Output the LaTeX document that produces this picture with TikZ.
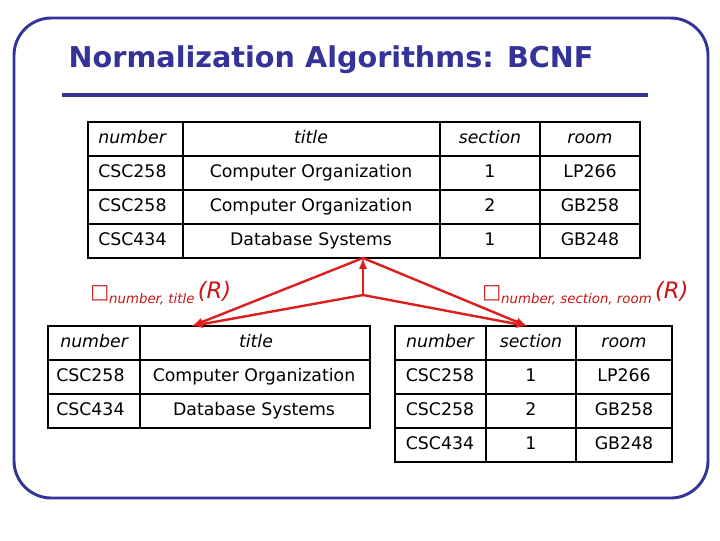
\documentclass[tikz,border=0pt]{standalone}
\usepackage{fontspec}
\setmainfont{DejaVu Sans}
\begin{document}
\begin{tikzpicture}[x=0.75pt,y=-0.75pt,
  tb/.style={draw=black,line width=1.6pt},
  cell/.style={font=\fontsize{13}{15}\selectfont,inner sep=0pt,text height=1.7ex,text depth=0.45ex},
  hd/.style={cell,font=\fontsize{13}{15}\selectfont\itshape},
  arr/.style={draw={rgb,255:red,220;green,30;blue,30},line width=1.8pt,-latex},
  lbl/.style={text={rgb,255:red,200;green,20;blue,20},inner sep=0pt,anchor=west}]
\useasboundingbox (0,0) rectangle (720,540);
\definecolor{navy}{RGB}{51,51,153}
\draw[navy,line width=2.2pt,rounded corners=28] (14,18) rectangle (708,498);
\node[anchor=west,text=navy,font=\fontsize{21.5}{24}\selectfont\bfseries] (ttl) at (64,60) {Normalization Algorithms: BCNF};
\draw[navy,line width=2.6pt] (62,95) -- (648,95);
% top table
\draw[tb] (88,122) rectangle (640,258);
\foreach \y in {156,190,224} \draw[tb] (88,\y) -- (640,\y);
\foreach \x in {183,440,540} \draw[tb] (\x,122) -- (\x,258);
\node[hd,anchor=west] (t00) at (98,139) {number};
\node[hd] (t01) at (311,139) {title};
\node[hd] (t02) at (490,139) {section};
\node[hd] (t03) at (590,139) {room};
\node[cell,anchor=west] (t10) at (98,173) {CSC258};
\node[cell] (t11) at (311,173) {Computer Organization};
\node[cell] (t12) at (490,173) {1};
\node[cell] (t13) at (590,173) {LP266};
\node[cell,anchor=west] (t20) at (98,207) {CSC258};
\node[cell] (t21) at (311,207) {Computer Organization};
\node[cell] (t22) at (490,207) {2};
\node[cell] (t23) at (590,207) {GB258};
\node[cell,anchor=west] (t30) at (98,241) {CSC434};
\node[cell] (t31) at (311,241) {Database Systems};
\node[cell] (t32) at (490,241) {1};
\node[cell] (t33) at (590,241) {GB248};
% bottom-left table
\draw[tb] (48,326) rectangle (370,428);
\foreach \y in {360,394} \draw[tb] (48,\y) -- (370,\y);
\draw[tb] (140,326) -- (140,428);
\node[hd,anchor=west] (l00) at (60,343) {number};
\node[hd] (l01) at (256,343) {title};
\node[cell,anchor=west] (l10) at (56,377) {CSC258};
\node[cell] (l11) at (254,377) {Computer Organization};
\node[cell,anchor=west] (l20) at (56,411) {CSC434};
\node[cell] (l21) at (254,411) {Database Systems};
% bottom-right table
\draw[tb] (395,326) rectangle (672,462);
\foreach \y in {360,394,428} \draw[tb] (395,\y) -- (672,\y);
\foreach \x in {486,576} \draw[tb] (\x,326) -- (\x,462);
\node[hd] (r00) at (440,343) {number};
\node[hd] (r01) at (531,343) {section};
\node[hd] (r02) at (624,343) {room};
\node[cell] (r10) at (440,377) {CSC258};
\node[cell] (r11) at (531,377) {1};
\node[cell] (r12) at (624,377) {LP266};
\node[cell] (r20) at (440,411) {CSC258};
\node[cell] (r21) at (531,411) {2};
\node[cell] (r22) at (624,411) {GB258};
\node[cell] (r30) at (440,445) {CSC434};
\node[cell] (r31) at (531,445) {1};
\node[cell] (r32) at (624,445) {GB248};
% arrows
\coordinate (top) at (363,258);
\coordinate (mid) at (363,295);
\coordinate (lt) at (192,326);
\coordinate (rt) at (527,326);
\draw[arr] (mid) -- (top);
\draw[arr] (mid) -- (lt);
\draw[arr] (mid) -- (rt);
\draw[arr] (top) -- (lt);
\draw[arr] (top) -- (rt);
% labels
\node[lbl] (pl) at (90,293) {\fontsize{15}{17}\selectfont □\raisebox{-0.5ex}{\fontsize{10}{12}\selectfont\itshape number, title}\,{\fontsize{17}{19}\selectfont\itshape (R)}};
\node[lbl] (pr) at (482,293) {\fontsize{15}{17}\selectfont □\raisebox{-0.5ex}{\fontsize{10}{12}\selectfont\itshape number, section, room}\,{\fontsize{17}{19}\selectfont\itshape (R)}};
\end{tikzpicture}
\end{document}
